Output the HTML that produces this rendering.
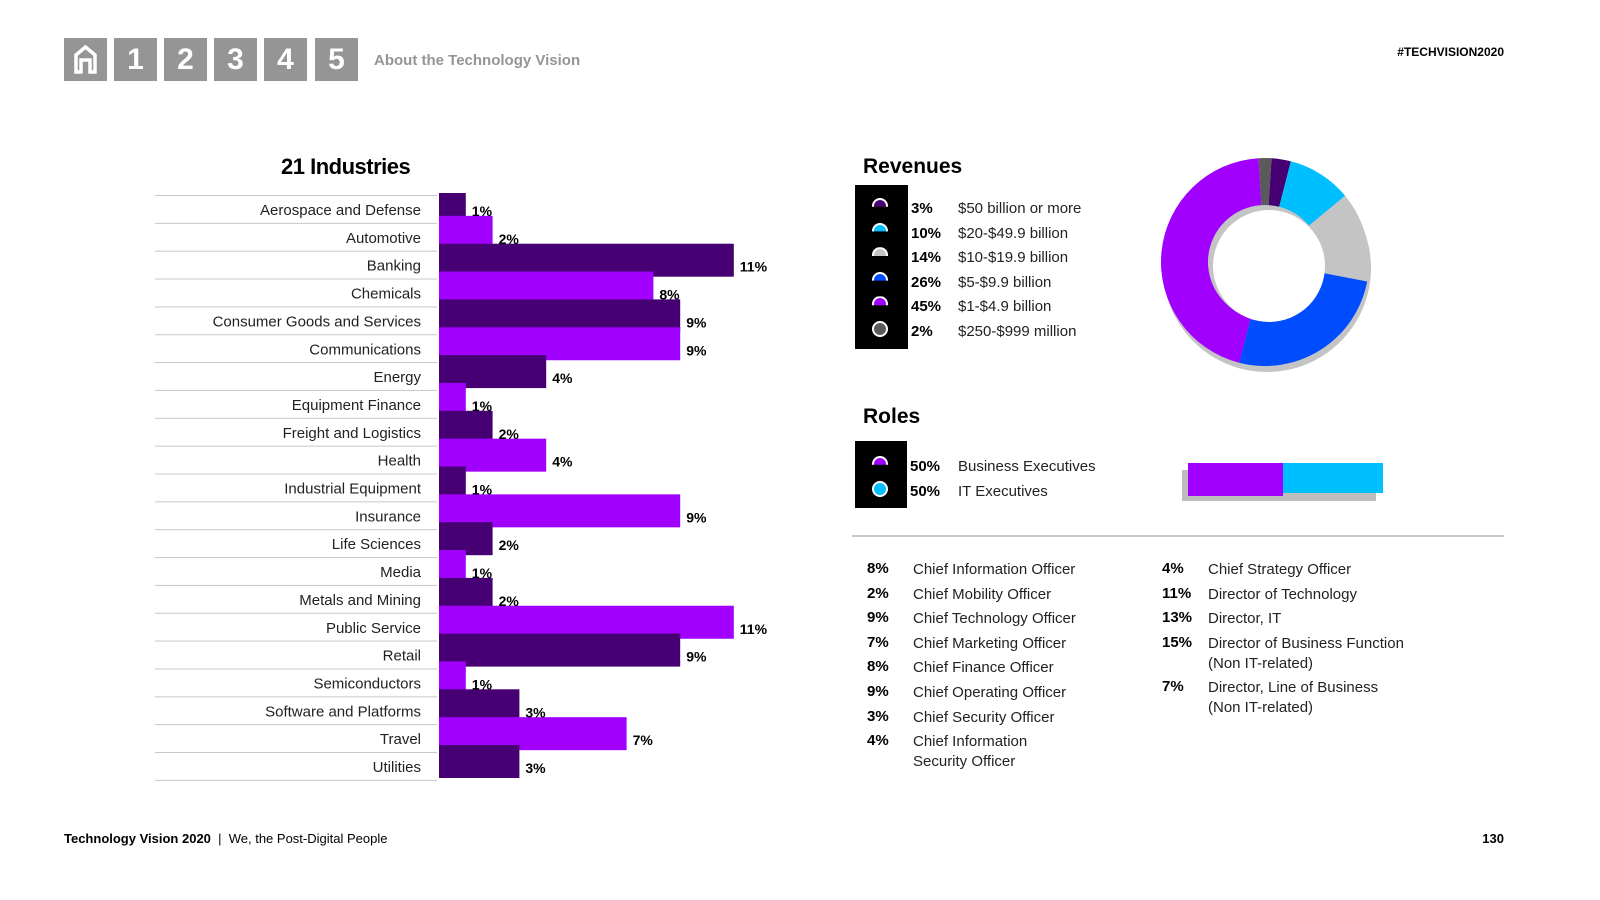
<!DOCTYPE html>
<html><head><meta charset="utf-8"><style>
body{margin:0;width:1600px;height:900px;background:#fff;position:relative;overflow:hidden;font-family:"Liberation Sans",sans-serif;color:#000}
.a{position:absolute;white-space:nowrap}
.nav{position:absolute;top:38px;width:43px;height:43px;background:#959595;color:#fff;font-weight:bold;font-size:30px;text-align:center;line-height:43px}
.t{font-size:15px;color:#222}
.b{font-weight:bold;font-size:15px}
</style></head><body>
<div class="nav" style="left:64px"><svg width="43" height="43"><path d="M12 34V17L21.5 9 31 17V34H26V22H17V34Z" fill="none" stroke="#fff" stroke-width="3.5"/></svg></div>
<div class="nav" style="left:114px">1</div>
<div class="nav" style="left:164px">2</div>
<div class="nav" style="left:214px">3</div>
<div class="nav" style="left:264px">4</div>
<div class="nav" style="left:315px">5</div>
<div class="a" style="left:374px;top:52px;font-size:15px;font-weight:bold;color:#959595">About the Technology Vision</div>
<div class="a" style="right:96px;top:45px;font-size:12px;font-weight:bold">#TECHVISION2020</div>
<div class="a" style="left:281px;top:154px;font-size:22px;font-weight:bold;letter-spacing:-0.5px">21 Industries</div>
<svg class="a" style="left:0;top:0" width="800" height="800" id="ind"></svg>
<div class="a" style="left:863px;top:155px;font-size:21px;font-weight:bold">Revenues</div>
<div class="a" style="left:855px;top:185px;width:53px;height:164px;background:#000"></div>
<div id="revleg"></div>
<svg class="a" style="left:1150px;top:145px" width="240" height="240" id="donut"></svg>
<div class="a" style="left:863px;top:405px;font-size:21px;font-weight:bold">Roles</div>
<div class="a" style="left:855px;top:441px;width:52px;height:67px;background:#000"></div>
<div id="roleleg"></div>
<div class="a" style="left:1182px;top:470px;width:194px;height:31px;background:#bdbdbd"></div>
<div class="a" style="left:1188px;top:463px;width:95px;height:33px;background:#a100ff"></div>
<div class="a" style="left:1283px;top:463px;width:100px;height:30px;background:#00bfff"></div>
<div class="a" style="left:852px;top:535px;width:652px;height:2px;background:#c8c8c8"></div>
<div id="roles"></div>
<div class="a" style="left:64px;top:831px;font-size:13px"><b>Technology Vision 2020</b> &nbsp;|&nbsp; We, the Post-Digital People</div>
<div class="a" style="right:96px;top:831px;font-size:13px;font-weight:bold">130</div>
<script>
const industries=["Aerospace and Defense","Automotive","Banking","Chemicals","Consumer Goods and Services","Communications","Energy","Equipment Finance","Freight and Logistics","Health","Industrial Equipment","Insurance","Life Sciences","Media","Metals and Mining","Public Service","Retail","Semiconductors","Software and Platforms","Travel","Utilities"];
const industryValues=[1,2,11,8,9,9,4,1,2,4,1,9,2,1,2,11,9,1,3,7,3];
const industryColors=["#460073","#a100ff","#460073","#a100ff","#460073","#a100ff","#460073","#a100ff","#460073","#a100ff","#460073","#a100ff","#460073","#a100ff","#460073","#a100ff","#460073","#a100ff","#460073","#a100ff","#460073"];
const revValues=[3,10,14,26,45,2];
const revLabels=["$50 billion or more","$20-$49.9 billion","$10-$19.9 billion","$5-$9.9 billion","$1-$4.9 billion","$250-$999 million"];
const revColors=["#460073","#00bfff","#c4c4c4","#004dff","#a100ff","#5a5a5a"];
const roleValues=[50,50];
const roleLabels=["Business Executives","IT Executives"];
const roleColors=["#a100ff","#00bfff"];
const titleLeftV=[8,2,9,7,8,9,3,4];
const titleLeftL=["Chief Information Officer","Chief Mobility Officer","Chief Technology Officer","Chief Marketing Officer","Chief Finance Officer","Chief Operating Officer","Chief Security Officer","Chief Information<br>Security Officer"];
const titleRightV=[4,11,13,15,7];
const titleRightL=["Chief Strategy Officer","Director of Technology","Director, IT","Director of Business Function<br>(Non IT-related)","Director, Line of Business<br>(Non IT-related)"];
const NS="http://www.w3.org/2000/svg";
const x=v=>439+v*26.8, rowY=i=>193+i*27.85;
const svg=document.getElementById('ind');
function mk(t,a){const e=document.createElementNS(NS,t);for(const k in a)e.setAttribute(k,a[k]);return e;}
industries.forEach((n,i)=>{
  const l=mk('rect',{x:155,y:rowY(i)+2,width:282,height:1,fill:'#c8c8c8'});
  
  
  svg.appendChild(l);
});
svg.appendChild(mk('rect',{x:155,y:rowY(21)+2,width:282,height:1,fill:'#c8c8c8'}));
industries.forEach((n,i)=>{
  const y=rowY(i);
  const r=mk('rect',{x:439,y:i==0?y:y-5,width:x(industryValues[i])-439,height:i==0?28:33,fill:industryColors[i]});
  
  
  svg.appendChild(r);
});
industries.forEach((n,i)=>{
  const y=rowY(i);
  const t=mk('text',{x:421,y:y+22,'text-anchor':'end','font-size':15,fill:'#222'});t.textContent=n;
  
  
  svg.appendChild(t);
  const v=mk('text',{x:x(industryValues[i])+6,y:y+23,'font-size':14,'font-weight':'bold'});v.textContent=industryValues[i]+'%';
  
  
  svg.appendChild(v);
});
// revenue legend
let h='';
revValues.forEach((v,i)=>{const y=197+i*24.6;
 h+=`<div class="a" style="left:872px;top:${y+1}px;width:16px;height:16px;border-radius:50%;background:${revColors[i]};border:2px solid #fff;box-sizing:border-box;${i<5?'clip-path:inset(0 0 45% 0)':''}"></div>
 <div class="a b" style="left:911px;top:${y+3}px">${v}%</div>
 <div class="a t" style="left:958px;top:${y+3}px">${revLabels[i]}</div>`;});
document.getElementById('revleg').innerHTML=h;
h='';
roleValues.forEach((v,i)=>{const y=455+i*24.6;
 h+=`<div class="a" style="left:872px;top:${y+1}px;width:16px;height:16px;border-radius:50%;background:${roleColors[i]};border:2px solid #fff;box-sizing:border-box;${i==0?'clip-path:inset(0 0 45% 0)':''}"></div>
 <div class="a b" style="left:910px;top:${y+3}px">${v}%</div>
 <div class="a t" style="left:958px;top:${y+3}px">${roleLabels[i]}</div>`;});
document.getElementById('roleleg').innerHTML=h;
// donut
const d=document.getElementById('donut');const cx=115,cy=117,R=104,r=57;
d.appendChild(mk('circle',{cx:cx+2,cy:cy+6,r:R,fill:'#c4c4c4'}));
const tot=revValues.reduce((a,b)=>a+b,0);let ang=0.01;
function pt(a,rad){return [cx+rad*Math.sin(a*2*Math.PI),cy-rad*Math.cos(a*2*Math.PI)];}
revValues.forEach((v,i)=>{const a0=ang,a1=ang+v/tot;ang=a1;
 const [x0,y0]=pt(a0,R),[x1,y1]=pt(a1,R),[x2,y2]=pt(a1,r),[x3,y3]=pt(a0,r);const lg=(a1-a0)>0.5?1:0;
 const p=mk('path',{d:`M${x0} ${y0}A${R} ${R} 0 ${lg} 1 ${x1} ${y1}L${x2} ${y2}A${r} ${r} 0 ${lg} 0 ${x3} ${y3}Z`,fill:revColors[i]});
 
 
 d.appendChild(p);});
d.appendChild(mk('circle',{cx:cx+2,cy:cy+2,r:r,fill:'#c4c4c4'}));
d.appendChild(mk('circle',{cx:cx+4,cy:cy+4,r:r-1,fill:'#fff'}));
// roles list
h='';
titleLeftV.forEach((v,i)=>{const y=560+i*24.6;
 h+=`<div class="a b" style="left:867px;top:${y}px">${v}%</div><div class="a t" style="left:913px;top:${y}px;line-height:20px">${titleLeftL[i]}</div>`;});
const ry=[560,584.6,609.2,633.8,678];
titleRightV.forEach((v,i)=>{const y=ry[i];
 h+=`<div class="a b" style="left:1162px;top:${y}px">${v}%</div><div class="a t" style="left:1208px;top:${y}px;line-height:20px">${titleRightL[i]}</div>`;});
document.getElementById('roles').innerHTML=h;
</script>
</body></html>
